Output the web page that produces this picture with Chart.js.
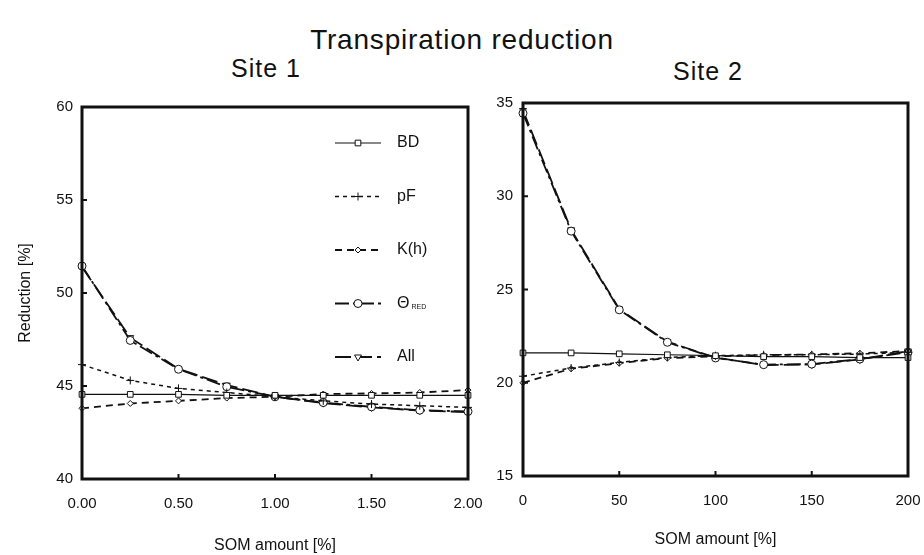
<!DOCTYPE html>
<html>
<head>
<meta charset="utf-8">
<title>Transpiration reduction</title>
<script src="https://cdn.jsdelivr.net/npm/chart.js@4.4.1/dist/chart.umd.min.js"></script>
<style>
  html, body { margin: 0; padding: 0; background: #fff; }
  #wrap { position: relative; width: 924px; height: 555px; overflow: hidden; font-family: "Liberation Sans", Arial, sans-serif; color: #111; }
  .lbl { position: absolute; white-space: nowrap; transform: translate(-50%, -50%); line-height: 1; }
  canvas { position: absolute; top: 0; }
</style>
</head>
<body>
<div id="wrap">
  <div class="lbl" style="left:462px;top:40px;font-size:28px;letter-spacing:0.8px;">Transpiration reduction</div>
  <div class="lbl" style="left:266px;top:68px;font-size:25px;letter-spacing:1px;">Site 1</div>
  <div class="lbl" style="left:708px;top:71px;font-size:25px;letter-spacing:1px;">Site 2</div>
  <canvas id="site1" width="490" height="555" style="left:0px"></canvas>
  <canvas id="site2" width="434" height="555" style="left:490px"></canvas>
</div>
<script>
// --- data ---
const som1 = [0, 0.25, 0.5, 0.75, 1.0, 1.25, 1.5, 1.75, 2.0];      // Site 1, SOM amount [%]
const som2 = [0, 25, 50, 75, 100, 125, 150, 175, 200];             // Site 2, SOM amount [%]

const seriesNames = ['BD', 'pF', 'K(h)', 'Θ', 'All'];
const seriesSub   = ['', '', '', 'RED', ''];

const bd1    = [44.55, 44.55, 44.55, 44.5, 44.5, 44.5, 44.5, 44.5, 44.5];
const pf1    = [46.15, 45.3, 44.87, 44.65, 44.42, 44.2, 44.03, 43.94, 43.85];
const kh1    = [43.8, 44.06, 44.2, 44.35, 44.42, 44.57, 44.6, 44.65, 44.78];
const theta1 = [51.45, 47.45, 45.9, 44.96, 44.42, 44.11, 43.88, 43.7, 43.63];
const all1   = [51.4, 47.6, 45.92, 45.05, 44.42, 44.08, 43.85, 43.68, 43.6];

const bd2    = [21.6, 21.6, 21.55, 21.5, 21.45, 21.4, 21.4, 21.35, 21.35];
const pf2    = [20.35, 20.79, 21.09, 21.36, 21.45, 21.5, 21.5, 21.54, 21.63];
const kh2    = [20.0, 20.75, 21.05, 21.32, 21.42, 21.48, 21.52, 21.58, 21.7];
const theta2 = [34.45, 28.13, 23.91, 22.17, 21.33, 20.97, 21.0, 21.27, 21.63];
const all2   = [34.6, 28.2, 23.95, 22.2, 21.35, 20.95, 20.98, 21.25, 21.7];

const xTicks1 = [0, 0.5, 1.0, 1.5, 2.0];
const xTicks2 = [0, 50, 100, 150, 200];

const INK = '#111';
const FONT = '"Liberation Sans", Arial, sans-serif';

// line/marker look per series
const styles = [
  { borderWidth: 1.2, borderDash: [],            pointStyle: 'rect',     pointRadius: 4, pointRotation: 0 },
  { borderWidth: 1.5, borderDash: [4, 4],        pointStyle: 'cross',    pointRadius: 4, pointRotation: 0 },
  { borderWidth: 1.8, borderDash: [7, 5],        pointStyle: 'rectRot',  pointRadius: 3, pointRotation: 0 },
  { borderWidth: 1.8, borderDash: [14, 4, 3, 4], pointStyle: 'circle',   pointRadius: 4, pointRotation: 0 },
  { borderWidth: 1.8, borderDash: [16, 5],       pointStyle: 'triangle', pointRadius: 4, pointRotation: 180 }
];

function makeDatasets(xs, lists){
  return lists.map((vals, i) => Object.assign({
    label: seriesNames[i] + seriesSub[i],
    data: xs.map((x, k) => ({ x: x, y: vals[k] })),
    borderColor: INK,
    pointBorderColor: INK,
    pointBackgroundColor: '#fff',
    pointBorderWidth: 1,
    tension: 0,
    fill: false,
    clip: false
  }, styles[i]));
}

// thick frame round the plot + small inward ticks
const framePlugin = {
  id: 'frame',
  afterDatasetsDraw(chart){
    const { ctx, chartArea: a, scales } = chart;
    ctx.save();
    ctx.strokeStyle = INK;
    ctx.lineWidth = 3;
    ctx.setLineDash([]);
    ctx.strokeRect(a.left, a.top, a.right - a.left, a.bottom - a.top);
    ctx.lineWidth = 2;
    scales.x.ticks.forEach(t => {
      const px = scales.x.getPixelForValue(t.value);
      ctx.beginPath(); ctx.moveTo(px, a.bottom); ctx.lineTo(px, a.bottom - 5); ctx.stroke();
    });
    scales.y.ticks.forEach(t => {
      const py = scales.y.getPixelForValue(t.value);
      ctx.beginPath(); ctx.moveTo(a.left, py); ctx.lineTo(a.left + 5, py); ctx.stroke();
    });
    ctx.restore();
  }
};

// legend drawn inside the plot, one row per series
const boxLegend = {
  id: 'boxLegend',
  afterDraw(chart, args, opts){
    if(!opts.show) return;
    const { ctx, chartArea: a } = chart;
    chart.data.datasets.forEach((ds, i) => {
      const x0 = a.left + opts.left;
      const y = a.top + opts.top + i * opts.gap;
      ctx.save();
      ctx.strokeStyle = INK;
      ctx.lineWidth = ds.borderWidth;
      ctx.setLineDash(ds.borderDash);
      ctx.beginPath(); ctx.moveTo(x0, y); ctx.lineTo(x0 + 46, y); ctx.stroke();
      ctx.setLineDash([]);
      ctx.fillStyle = '#fff';
      ctx.lineWidth = 1;
      if(Chart.helpers && Chart.helpers.drawPoint){
        Chart.helpers.drawPoint(ctx, { pointStyle: ds.pointStyle, rotation: ds.pointRotation, radius: ds.pointRadius, borderWidth: 1 }, x0 + 23, y);
      }
      ctx.fillStyle = INK;
      ctx.font = '16px ' + FONT;
      ctx.textBaseline = 'middle';
      ctx.textAlign = 'left';
      const name = seriesNames[i];
      ctx.fillText(name, x0 + 62, y);
      if(seriesSub[i]){
        const w = ctx.measureText(name).width;
        ctx.font = '7px ' + FONT;
        ctx.fillText(seriesSub[i], x0 + 62 + w + 2, y + 4);
      }
      ctx.restore();
    });
  }
};

function makeChart(id, xs, lists, xOpt, yOpt, legendOpt, layoutPad){
  return new Chart(document.getElementById(id), {
    type: 'line',
    data: { datasets: makeDatasets(xs, lists) },
    plugins: [framePlugin, boxLegend],
    options: {
      responsive: false,
      animation: false,
      layout: { padding: layoutPad },
      plugins: {
        legend: { display: false },
        tooltip: { enabled: false },
        boxLegend: legendOpt
      },
      scales: {
        x: {
          type: 'linear',
          min: xOpt.min, max: xOpt.max,
          afterBuildTicks: s => { s.ticks = xOpt.ticks.map(v => ({ value: v })); },
          ticks: { callback: xOpt.fmt, padding: xOpt.pad, color: INK, font: { family: FONT, size: 15 }, maxRotation: 0 },
          grid: { display: false, drawTicks: false },
          border: { display: false },
          title: { display: true, text: 'SOM amount [%]', color: INK, font: { family: FONT, size: 16 }, padding: { top: 0, bottom: xOpt.titlePad } },
          afterFit: s => { s.height = xOpt.height; s.paddingLeft = 0; s.paddingRight = 0; }
        },
        y: {
          min: yOpt.min, max: yOpt.max,
          ticks: { stepSize: 5, padding: yOpt.pad, color: INK, font: { family: FONT, size: 15 } },
          grid: { display: false, drawTicks: false },
          border: { display: false },
          title: { display: yOpt.title !== '', text: yOpt.title, color: INK, font: { family: FONT, size: 16 }, padding: { top: 16, bottom: 0 } },
          afterFit: s => { s.width = yOpt.width; s.paddingTop = 0; s.paddingBottom = 0; }
        }
      }
    }
  });
}

makeChart('site1', som1, [bd1, pf1, kh1, theta1, all1],
  { min: 0, max: 2, ticks: xTicks1, fmt: v => v.toFixed(2), pad: 16, height: 76, titlePad: 0 },
  { min: 40, max: 60, pad: 9, width: 82, title: 'Reduction [%]' },
  { show: true, left: 253, top: 36, gap: 53.5 },
  { top: 107, right: 22, left: 0, bottom: 0 });

makeChart('site2', som2, [bd2, pf2, kh2, theta2, all2],
  { min: 0, max: 200, ticks: xTicks2, fmt: v => String(v), pad: 16, height: 79, titlePad: 6 },
  { min: 15, max: 35, pad: 10, width: 33, title: '' },
  { show: false },
  { top: 103, right: 16, left: 0, bottom: 0 });
</script>
</body>
</html>
